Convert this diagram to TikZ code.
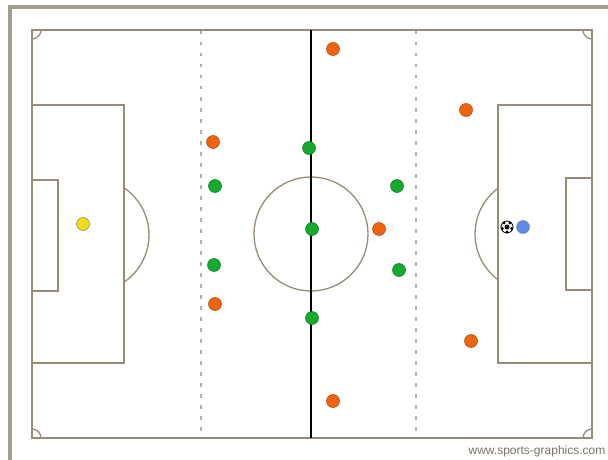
\documentclass[tikz,border=0pt]{standalone}
\usepackage{fontspec}
\setsansfont{Liberation Sans}
\usetikzlibrary{positioning}

\definecolor{pitchline}{RGB}{150,140,120}
\definecolor{frameline}{RGB}{165,158,140}
\definecolor{teamorange}{RGB}{240,100,15}
\definecolor{teamgreen}{RGB}{20,170,45}
\definecolor{keeperyellow}{RGB}{245,220,20}
\definecolor{keeperblue}{RGB}{90,140,235}
\definecolor{credit}{RGB}{120,115,105}

\begin{document}
\begin{tikzpicture}[
        x=1pt, y=-1pt,
        line width=1.3pt, draw=pitchline, % pitch markings
        player/.style={circle, minimum size=13pt, inner sep=0pt, line width=0.5pt},
        orangeplayer/.style={player, fill=teamorange, draw=teamorange!70!black},
        greenplayer/.style={player, fill=teamgreen, draw=teamgreen!70!black},
        keeper/.style={player, draw=black!50},
        zoneline/.style={draw=pitchline!70, line width=1.6pt, dash pattern=on 3.5pt off 7.5pt}
      ]
      \useasboundingbox (0,0) rectangle (608,460);
      \fill[white] (0,0) rectangle (608,460);

      % Frame
      \draw[frameline, line width=3.6pt] (10,460) -- (10,7) -- (608,7);

      % Pitch
      \draw (32,30) rectangle (592,438);
      \draw (32,105) rectangle (124,363);
      \draw (498,105) rectangle (592,363);
      \draw (32,180) rectangle (58,291);
      \draw (566,178) rectangle (592,290);
      \draw (311,234) circle (57);
      \draw[black] (311,30) -- (311,438);
      \draw[zoneline] (201,31) -- (201,438);
      \draw[zoneline] (416,31) -- (416,438);
      \begin{scope}
        \clip (124,0) rectangle (200,460);
        \draw (92,235) circle (57);
      \end{scope}
      \begin{scope}
        \clip (420,0) rectangle (498,460);
        \draw (532,234) circle (57);
      \end{scope}
      \begin{scope}
        \clip (32,30) rectangle (592,438);
        \foreach \cx/\cy in {32/30, 592/30, 32/438, 592/438}
          \draw (\cx,\cy) circle (9);
      \end{scope}

      % Players
      \node[orangeplayer] (o1) at (333,49) {};
      \node[orangeplayer] (o2) at (213,142) {};
      \node[orangeplayer] (o3) at (466,110) {};
      \node[orangeplayer] (o4) at (379,229) {};
      \node[orangeplayer] (o5) at (215,304) {};
      \node[orangeplayer] (o6) at (471,341) {};
      \node[orangeplayer] (o7) at (333,401) {};
      \node[greenplayer] (g1) at (309,148) {};
      \node[greenplayer] (g2) at (215,186) {};
      \node[greenplayer] (g3) at (397,186) {};
      \node[greenplayer] (g4) at (312,229) {};
      \node[greenplayer] (g5) at (214,265) {};
      \node[greenplayer] (g6) at (399,270) {};
      \node[greenplayer] (g7) at (312,318) {};
      \node[keeper, fill=keeperyellow] (gk1) at (83,224) {};
      \node[keeper, fill=keeperblue] (gk2) at (523,227) {};

      % Ball
      \node[circle, minimum size=12pt, inner sep=0pt, fill=white, draw=black, line width=0.8pt] (ball) at (507,227) {};
      \fill[black] (ball.center) circle (2.5);
      \foreach \a in {90,162,234,306,18}
        \fill[black] (ball.center) ++(\a:5) circle (1.6);

      % Credit
      \node[font=\sffamily\fontsize{12}{13}\selectfont, text=credit, anchor=east, inner sep=0pt] (site) at (606,451) {www.sports-graphics.com};

    \end{tikzpicture}
\end{document}
